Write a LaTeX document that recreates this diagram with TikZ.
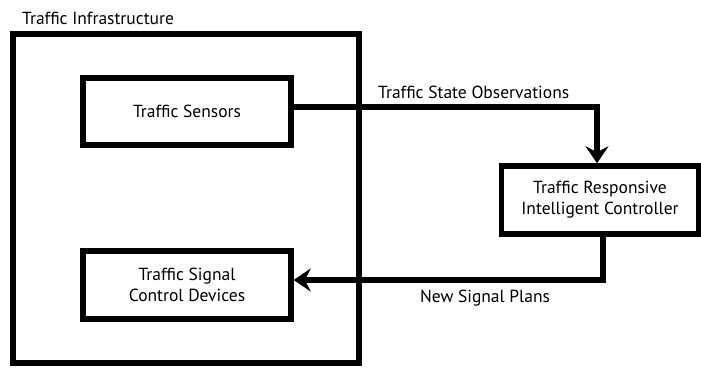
\documentclass[tikz,border=0pt]{standalone}
\usepackage{fontspec}
\setmainfont{PT Sans}
\usetikzlibrary{arrows.meta}
\begin{document}
\begin{tikzpicture}[x=1pt,y=-1pt,
  block/.style={draw, line width=5.5pt, rectangle, inner sep=0pt, align=center, font=\fontsize{17.5}{21}\selectfont},
  flow/.style={line width=5.5pt, -{Stealth[length=17pt,width=23pt,inset=6pt]}},
  lbl/.style={font=\fontsize{17.5}{21}\selectfont, inner sep=0pt}]
  \useasboundingbox (0,0) rectangle (701,368);
  % outer container
  \node[block, line width=6pt, minimum width=346pt, minimum height=329pt] (infra) at (186,198.5) {};
  \node[lbl, anchor=west] (infralbl) at (22,18) {Traffic Infrastructure};
  % inner blocks
  \node[block, minimum width=208pt, minimum height=67pt] (sensors) at (187,111.5) {Traffic Sensors};
  \node[block, minimum width=208pt, minimum height=68pt] (signal) at (187,285) {Traffic Signal\\Control Devices};
  \node[block, minimum width=197pt, minimum height=68pt] (ctrl) at (600,200) {Traffic Responsive\\Intelligent Controller};
  % connectors
  \draw[flow] ([yshift=4.5pt]sensors.east) -| ([xshift=-3pt]ctrl.north);
  \draw[flow] ([xshift=3pt]ctrl.south) |- ([yshift=5pt]signal.east);
  \node[lbl, anchor=west] (obs) at (378,92) {Traffic State Observations};
  \node[lbl] (plans) at (485,298) {New Signal Plans};
\end{tikzpicture}
\end{document}
